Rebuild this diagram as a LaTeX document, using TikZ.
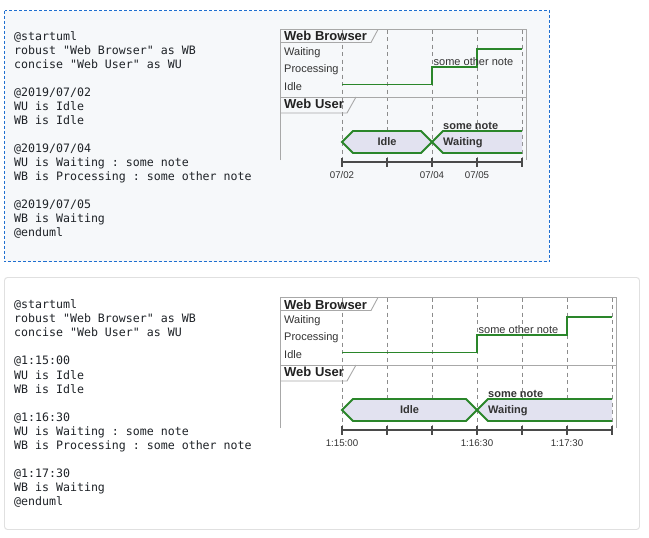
\documentclass[tikz,border=0pt]{standalone}
\usepackage{fontspec}
\setmainfont{Liberation Sans}
\newfontfamily\codefont{DejaVu Sans Mono}
\frenchspacing
\definecolor{boxbg}{HTML}{F6F8FA}
\definecolor{dashblue}{HTML}{1F6FD0}
\definecolor{boxline}{HTML}{E0E0E0}
\definecolor{codecol}{HTML}{1F2328}
\definecolor{txt}{HTML}{222222}
\definecolor{txtb}{HTML}{333333}
\definecolor{framecol}{HTML}{A8A8A8}
\definecolor{gridcol}{HTML}{8C8C8C}
\definecolor{sigcol}{HTML}{2A862A}
\definecolor{hexfill}{HTML}{E2E2F0}
\definecolor{axiscol}{HTML}{4A4A4A}
\tikzset{
  codeline/.style={anchor=base west, inner sep=0pt, text=codecol, font=\codefont\fontsize{11.6}{14}\selectfont\frenchspacing},
  titletext/.style={anchor=base west, inner sep=0pt, text=txt, font=\bfseries\fontsize{13}{15}\selectfont},
  statetext/.style={anchor=base west, inner sep=0pt, text=txtb, font=\fontsize{11}{13}\selectfont},
  boldnote/.style={anchor=base west, inner sep=0pt, text=txtb, font=\bfseries\fontsize{11}{13}\selectfont},
  boldmid/.style={anchor=base, inner sep=0pt, text=txtb, font=\bfseries\fontsize{11}{13}\selectfont},
  axislbl/.style={anchor=base, inner sep=0pt, text=txtb, font=\fontsize{9.7}{11}\selectfont},
  frameline/.style={draw=framecol, line width=0.9pt},
  gridline/.style={draw=gridcol, line width=0.7pt, dash pattern=on 4pt off 3.5pt},
  sigline/.style={draw=sigcol, line width=1.9pt},
  hexshape/.style={fill=hexfill},
  axisline/.style={draw=axiscol, line width=1.8pt},
  tickline/.style={draw=axiscol, line width=1.3pt}
}
\begin{document}
\begin{tikzpicture}[x=1pt,y=-1pt]
\useasboundingbox (0,0) rectangle (649,538);
\fill[white] (0,0) rectangle (649,538);
% ---------- boxes ----------
\draw[fill=boxbg, draw=dashblue, line width=0.9pt, dash pattern=on 3pt off 2pt] (4.5,10.5) rectangle (549.5,261.5);
\draw[fill=white, draw=boxline, line width=0.9pt, rounded corners=3pt] (4.5,277.5) rectangle (639.5,529.5);
% ---------- code top ----------
\foreach \i/\t in {0/{@startuml}, 1/{robust "Web Browser" as WB}, 2/{concise "Web User" as WU},
  4/{@2019/07/02}, 5/{WU is Idle}, 6/{WB is Idle},
  8/{@2019/07/04}, 9/{WU is Waiting : some note}, 10/{WB is Processing : some other note},
  12/{@2019/07/05}, 13/{WB is Waiting}, 14/{@enduml}}
  \node[codeline] (ca\i) at (14, 40.7+14*\i) {\t};
% ---------- code bottom ----------
\foreach \i/\t in {0/{@startuml}, 1/{robust "Web Browser" as WB}, 2/{concise "Web User" as WU},
  4/{@1:15:00}, 5/{WU is Idle}, 6/{WB is Idle},
  8/{@1:16:30}, 9/{WU is Waiting : some note}, 10/{WB is Processing : some other note},
  12/{@1:17:30}, 13/{WB is Waiting}, 14/{@enduml}}
  \node[codeline] (cb\i) at (14, 308.5+14.1*\i) {\t};
% ---------- top diagram ----------
\begin{scope}
  \foreach \k in {0,...,4} \draw[gridline] (342+45*\k,29.5) -- (342+45*\k,160);
  \draw[frameline] (280.5,160) -- (280.5,29.5) -- (526,29.5) -- (526,160);
  \draw[frameline] (280.5,42.5) -- (371,42.5) -- (378,29.5);
  \draw[frameline] (280.5,97) -- (526,97);
  \draw[frameline] (280.5,113) -- (347,113) -- (356,97);
  \node[titletext] (awbt) at (284,41) {Web Browser};
  \node[statetext] (aw) at (284,55) {Waiting};
  \node[statetext] (ap) at (284,72.7) {Processing};
  \node[statetext] (ai) at (284,90.5) {Idle};
  \node[titletext] (awut) at (284,108.3) {Web User};
  \draw[sigline] (342,84.5) -- (432,84.5) -- (432,66.7) -- (477,66.7) -- (477,49) -- (522,49);
  \node[statetext] (aon) at (433.5,65) {some other note};
  \fill[hexshape] (432,142) -- (443,131) -- (522,131) -- (522,153) -- (443,153) -- cycle;
  \draw[hexshape, sigline] (342,142) -- (353,131) -- (421,131) -- (432,142) -- (421,153) -- (353,153) -- cycle;
  \draw[sigline] (522,131) -- (443,131) -- (432,142) -- (443,153) -- (522,153);
  \node[boldmid] (aidle) at (387,145.7) {Idle};
  \node[boldnote] (await) at (443,145.7) {Waiting};
  \node[boldnote] (anote) at (443,129) {some note};
  \draw[axisline] (342,162) -- (522,162);
  \foreach \k in {0,...,4} \draw[tickline] (342+45*\k,157.5) -- (342+45*\k,166.5);
  \node[axislbl] (ax1) at (342,178.5) {07/02};
  \node[axislbl] (ax2) at (432,178.5) {07/04};
  \node[axislbl] (ax3) at (477,178.5) {07/05};
\end{scope}
% ---------- bottom diagram ----------
\begin{scope}[shift={(0,268)}]
  \foreach \k in {0,...,6} \draw[gridline] (342+45*\k,29.5) -- (342+45*\k,160);
  \draw[frameline] (280.5,160) -- (280.5,29.5) -- (616,29.5) -- (616,160);
  \draw[frameline] (280.5,42.5) -- (371,42.5) -- (378,29.5);
  \draw[frameline] (280.5,97) -- (616,97);
  \draw[frameline] (280.5,113) -- (347,113) -- (356,97);
  \node[titletext] (bwbt) at (284,41) {Web Browser};
  \node[statetext] (bw) at (284,55) {Waiting};
  \node[statetext] (bp) at (284,72.7) {Processing};
  \node[statetext] (bi) at (284,90.5) {Idle};
  \node[titletext] (bwut) at (284,108.3) {Web User};
  \draw[sigline] (342,84.5) -- (477,84.5) -- (477,66.7) -- (567,66.7) -- (567,49) -- (612,49);
  \node[statetext] (bon) at (478.5,65) {some other note};
  \fill[hexshape] (477,142) -- (488,131) -- (612,131) -- (612,153) -- (488,153) -- cycle;
  \draw[hexshape, sigline] (342,142) -- (353,131) -- (466,131) -- (477,142) -- (466,153) -- (353,153) -- cycle;
  \draw[sigline] (612,131) -- (488,131) -- (477,142) -- (488,153) -- (612,153);
  \node[boldmid] (bidle) at (409.5,145.7) {Idle};
  \node[boldnote] (bwait) at (488,145.7) {Waiting};
  \node[boldnote] (bnote) at (488,129) {some note};
  \draw[axisline] (342,162) -- (612,162);
  \foreach \k in {0,...,6} \draw[tickline] (342+45*\k,157.5) -- (342+45*\k,166.5);
  \node[axislbl] (bx1) at (342,178.5) {1:15:00};
  \node[axislbl] (bx2) at (477,178.5) {1:16:30};
  \node[axislbl] (bx3) at (567,178.5) {1:17:30};
\end{scope}
\end{tikzpicture}
\end{document}
